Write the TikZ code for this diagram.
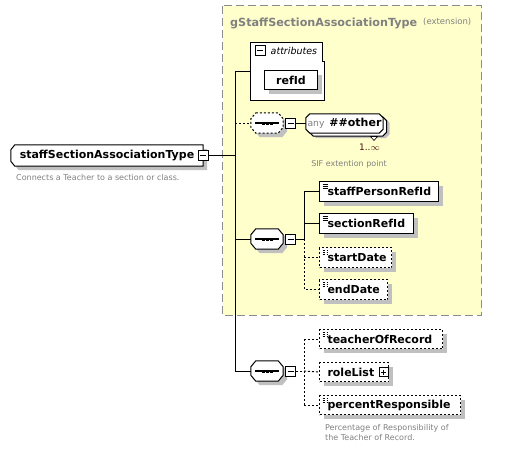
\documentclass[tikz,border=0pt]{standalone}
\usepackage{fontspec}
\setmainfont{DejaVu Sans}
\usetikzlibrary{shadows}
\pgfdeclarelayer{back}
\pgfdeclarelayer{bg}
\pgfsetlayers{back,bg,main}
\definecolor{grpfill}{HTML}{FFFFCC}
\definecolor{grpborder}{HTML}{8C8C8C}
\definecolor{shade}{HTML}{C0C0C0}
\definecolor{note}{HTML}{808080}
\definecolor{occ}{HTML}{4A1414}
\tikzset{
  conn/.style={line width=1pt},
  optconn/.style={line width=1pt, dash pattern=on 2pt off 2pt},
  sh/.style={general shadow={shadow xshift=4pt, shadow yshift=-4pt, fill=shade, draw=none}},
  bigtext/.style={font=\fontsize{11}{13}\selectfont\bfseries},
  notetext/.style={font=\fontsize{8}{10}\selectfont, text=note, inner sep=0pt},
  elem/.style={draw, fill=white, line width=1pt, sh, anchor=north west,
    minimum height=20pt, inner xsep=8pt, inner ysep=0pt, bigtext, align=left},
  optelem/.style={elem, dash pattern=on 2pt off 2pt},
  simple/.style={path picture={
    \foreach \k in {3,5,7}
      \draw[line width=0.6pt] ([xshift=3pt,yshift=-\k pt]path picture bounding box.north west) -- ++(5pt,0pt);}},
  outline/.style={draw, fill=white, line width=1pt},
  shadowfill/.style={fill=shade},
  seqbox/.style={minimum width=32pt, minimum height=20pt, inner sep=0pt},
  minusbox/.style={draw, fill=white, line width=1pt, minimum size=10pt, inner sep=0pt,
    path picture={\draw[line width=1pt] ([xshift=2pt]path picture bounding box.west) -- ([xshift=-2pt]path picture bounding box.east);}},
  plusbox/.style={minusbox, minimum size=9pt,
    path picture={\draw[line width=1pt] ([xshift=2pt]path picture bounding box.west) -- ([xshift=-2pt]path picture bounding box.east);
      \draw[line width=1pt] ([yshift=-2pt]path picture bounding box.north) -- ([yshift=2pt]path picture bounding box.south);}},
}
% octagon around node #2: chamfer #3 (x) #4 (y), offset #5 #6
\newcommand\octshape[6]{%
  \path[#1] ([xshift=#3+#5, yshift=#6]#2.north west) -- ([xshift=-#3+#5, yshift=#6]#2.north east)
    -- ([xshift=#5, yshift=-#4+#6]#2.north east) -- ([xshift=#5, yshift=#4+#6]#2.south east)
    -- ([xshift=-#3+#5, yshift=#6]#2.south east) -- ([xshift=#3+#5, yshift=#6]#2.south west)
    -- ([xshift=#5, yshift=#4+#6]#2.south west) -- ([xshift=#5, yshift=-#4+#6]#2.north west) -- cycle;}
% left-chamfered box
\newcommand\leftshape[6]{%
  \path[#1] ([xshift=#3+#5, yshift=#6]#2.north west) -- ([xshift=#5, yshift=#6]#2.north east)
    -- ([xshift=#5, yshift=#6]#2.south east)
    -- ([xshift=#3+#5, yshift=#6]#2.south west)
    -- ([xshift=#5, yshift=#4+#6]#2.south west) -- ([xshift=#5, yshift=-#4+#6]#2.north west) -- cycle;}
\newcommand\seqmark[2]{%
  \begin{pgfonlayer}{bg}
  \octshape{shadowfill}{#1}{5pt}{6pt}{4pt}{-4pt}
  \octshape{outline,#2}{#1}{5pt}{6pt}{0pt}{0pt}
  \end{pgfonlayer}
  \draw[line width=1.2pt] ([xshift=-12pt]#1.center) -- ([xshift=12pt]#1.center);
  \foreach \dx in {-4,0,4} \fill ([xshift=\dx pt-1.5pt, yshift=-1.5pt]#1.center) rectangle ++(3pt,3pt);
}
\begin{document}
\begin{tikzpicture}[x=1pt,y=-1pt]
\useasboundingbox (0,0) rectangle (524,448);
% group box
\begin{pgfonlayer}{back}
\draw[draw=grpborder, fill=grpfill, line width=1pt, dash pattern=on 8pt off 4pt] (222.5,5.5) rectangle (481.5,315);
\end{pgfonlayer}
\node[anchor=base west, font=\fontsize{11.2}{13}\selectfont\bfseries, text=note, inner sep=0pt] (title) at (230,26.5) {gStaffSectionAssociationType};
\node[anchor=base west, font=\fontsize{8.5}{10}\selectfont, text=note, inner sep=0pt] (ext) at (423,24.5) {(extension)};

% main element
\node[minimum width=192pt, minimum height=21pt, inner sep=0pt, bigtext]
  (main) at (107,155.5) {staffSectionAssociationType\hspace{8pt}};
\begin{pgfonlayer}{bg}
\leftshape{shadowfill}{main}{4pt}{5pt}{4pt}{-4pt}
\leftshape{outline}{main}{4pt}{5pt}{0pt}{0pt}
\end{pgfonlayer}
\node[minusbox] (mainminus) at (203,155.5) {};
\node[notetext, anchor=base west] (maindesc) at (16,180) {Connects a Teacher to a section or class.};

% trunk
\coordinate (tA) at (235,71);
\coordinate (tB) at (235,371);
\draw[conn] (tA) -- (tB);
\draw[conn] (mainminus.east) -- (mainminus.east -| tA);

% attributes
\draw[line width=1pt, fill=white] (250,42) -- (322,42) -- (322,61) -- (324.5,61) -- (324.5,100.5) -- (250,100.5) -- cycle;
\coordinate (attrw) at (250,71);
\node[minusbox] (attrminus) at (260,50.5) {};
\node[anchor=base west, font=\fontsize{9.5}{11}\selectfont\itshape, inner sep=0pt] (attrlabel) at (270.5,54.5) {attributes};
\node[draw, fill=white, line width=1pt, sh, anchor=north west, minimum width=53pt, minimum height=19pt, inner sep=0pt, bigtext] (refid) at (264,70) {refId};
\draw[conn] (tA) -- (attrw);

% any sequence
\node[seqbox] (seq1) at (267,123) {};
\seqmark{seq1}{dash pattern=on 2pt off 2pt}
\node[minusbox] (seq1minus) at (290.5,123.5) {};
\node[minimum width=77pt, minimum height=19pt, inner sep=0pt]
  (any) at (344.5,123.5) {{\color{note}\fontsize{9.2}{11}\selectfont any}\hspace{5pt}{\fontsize{11}{13}\selectfont\bfseries \#\#other}};
\begin{pgfonlayer}{bg}
\octshape{shadowfill}{any}{4pt}{4pt}{6.5pt}{-5pt}
\octshape{outline}{any}{4pt}{4pt}{3.5pt}{-3pt}
\octshape{outline}{any}{4pt}{4pt}{0pt}{0pt}
\end{pgfonlayer}
\draw[line width=0.6pt, fill=white] (370.5,136.5) -- (377.5,136.5) -- (374,140.5) -- cycle;
\node[anchor=base, font=\fontsize{9}{10}\selectfont, text=occ, inner sep=0pt] (occany) at (369.5,150) {1..\(\infty\)};
\node[notetext, anchor=base] (anydesc) at (349,166) {SIF extention point};
\draw[optconn] (seq1.west -| tA) -- (seq1.west);
\draw[conn] (seq1minus.east) -- (any.west);

% second sequence
\node[seqbox] (seq2) at (267,239) {};
\seqmark{seq2}{}
\node[minusbox] (seq2minus) at (290.5,239) {};
\draw[conn] (seq2.west -| tA) -- (seq2.west);
\coordinate (b2) at (304,239);
\draw[conn] (seq2minus.east) -- (b2);

\node[elem, simple, text width=103pt] (spr) at (319,181) {staffPersonRefId};
\node[elem, simple, text width=78pt] (sri) at (319,213) {sectionRefId};
\node[optelem, simple, text width=56pt] (sd) at (319,247) {startDate};
\node[optelem, simple, text width=52pt] (ed) at (319,279) {endDate};
\draw[conn] (b2) |- (spr.west);
\draw[conn] (b2 |- sri.west) -- (sri.west);
\draw[optconn] (b2) |- (ed.west);
\draw[optconn] (b2 |- sd.west) -- (sd.west);

% third sequence
\node[seqbox] (seq3) at (267,371) {};
\seqmark{seq3}{}
\node[minusbox] (seq3minus) at (290.5,371) {};
\draw[conn] (tB) -- (seq3.west);
\coordinate (b3) at (304,371);
\draw[optconn] (seq3minus.east) -- (b3);

\node[optelem, simple, minimum height=19pt, text width=107pt] (tor) at (319,329) {teacherOfRecord};
\node[optelem, minimum height=19pt, text width=53pt] (rl) at (319,362) {roleList};
\node[plusbox] (rlplus) at (383.5,372) {};
\node[optelem, simple, minimum height=19pt, text width=125pt] (pr) at (319,395) {percentResponsible};
\draw[optconn] (b3 |- tor.west) -- (b3 |- pr.west);
\draw[optconn] (b3 |- tor.west) -- (tor.west);
\draw[optconn] (b3) -- (rl.west);
\draw[optconn] (b3 |- pr.west) -- (pr.west);
\node[notetext, anchor=base west, align=left] (prdesc1) at (325,430) {Percentage of Responsibility of};
\node[notetext, anchor=base west, align=left] (prdesc2) at (325,440) {the Teacher of Record.};
\end{tikzpicture}
\end{document}
